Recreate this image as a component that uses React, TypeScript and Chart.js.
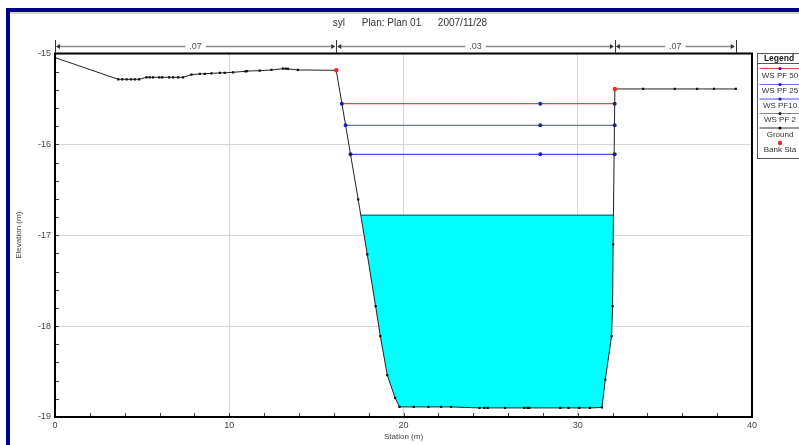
import React, { useEffect, useRef } from "react";
import { Chart, registerables } from "chart.js";

Chart.register(...registerables);

// ---- data ----
const groundX = [
  0, 3.63, 3.86, 4.11, 4.36, 4.58, 4.83, 5.25, 5.44, 5.63, 5.98, 6.15, 6.55, 6.78, 7.07, 7.35,
  7.83, 8.31, 8.6, 8.98, 9.46, 9.74, 10.22, 10.93, 11.02, 11.75, 12.42, 13.08, 13.24, 13.37, 13.94,
  16.14, 17.4, 17.92, 18.4, 18.67, 19.07, 19.52, 19.77, 20.59, 21.43, 22.16, 22.73, 24.36, 24.64,
  24.83, 25.83, 26.93, 27.12, 27.22, 29.0, 29.47, 30.09, 30.7, 31.39, 31.58, 31.94, 32.0, 32.03,
  32.13, 33.75, 35.57, 36.85, 37.82, 39.07,
];
const groundY = [
  -15.045, -15.284, -15.284, -15.284, -15.284, -15.284, -15.284, -15.262, -15.262, -15.262, -15.262,
  -15.262, -15.262, -15.262, -15.262, -15.262, -15.233, -15.225, -15.223, -15.218, -15.214, -15.212,
  -15.207, -15.196, -15.193, -15.189, -15.181, -15.167, -15.167, -15.17, -15.181,
  -15.185, -16.606, -17.21, -17.78, -18.11, -18.54, -18.79, -18.889, -18.889, -18.889, -18.889,
  -18.889, -18.9, -18.9, -18.9, -18.9, -18.9, -18.9, -18.9, -18.9, -18.9, -18.9, -18.9, -18.895,
  -18.59, -18.11, -17.78, -17.1, -15.39, -15.39, -15.39, -15.39, -15.39, -15.39,
];
const bankX = [16.14, 32.13];
const bankY = [-15.185, -15.39];

const wsNames = ["WS PF 50", "WS PF 25", "WS PF10", "WS PF 2"];
const wsElev = [-15.552, -15.79, -16.11, -16.78];
const wsLeftX = [16.46, 16.68, 16.96, 17.55];
const wsMidX = [27.85, 27.85, 27.85, 27.85];
const wsRightX = [32.12, 32.12, 32.12, 32.05];

const nStations = [0, 16.14, 32.13, 39.07];
const nValues = [".07", ".03", ".07"];

const xTicks = [0, 10, 20, 30, 40];
const yTicks = [-15, -16, -17, -18, -19];

const titleText = "syl      Plan: Plan 01      2007/11/28";
const FONT = "'Liberation Sans', Arial, sans-serif";

// ---- styles ----
const wsLine = ["#e04848", "#6a6ae8", "#4a4af8", "#1f7f86"];
const wsMarker = "#1c1cc8";

export default function App() {
  const ref = useRef<HTMLCanvasElement>(null);

  useEffect(() => {
    document.body.style.margin = "0";
    const canvas = ref.current!;

    const wsSets = wsNames.map((name, i) => {
      const pts =
        i === 3
          ? [
              { x: wsLeftX[i], y: wsElev[i] },
              { x: wsRightX[i], y: wsElev[i] },
            ]
          : [
              { x: wsLeftX[i], y: wsElev[i] },
              { x: wsMidX[i], y: wsElev[i] },
              { x: wsRightX[i], y: wsElev[i] },
            ];
      return {
        label: name,
        data: pts,
        showLine: true,
        borderColor: wsLine[i],
        borderWidth: i === 3 ? 1.5 : 1.2,
        pointRadius: i === 3 ? 0 : 2,
        pointBackgroundColor: wsMarker,
        pointBorderColor: wsMarker,
        pointBorderWidth: 0,
        fill: i === 3 ? { target: 4 } : false,
        backgroundColor: i === 3 ? "#00ffff" : wsMarker,
        order: 5 + i,
      } as any;
    });

    const ground = {
      label: "Ground",
      data: groundX.map((x, i) => ({ x, y: groundY[i] })),
      showLine: true,
      borderColor: "#222",
      borderWidth: 1,
      pointStyle: "rect",
      pointRadius: 1.6,
      pointBackgroundColor: "#111",
      pointBorderColor: "#111",
      pointBorderWidth: 0,
      fill: false,
      order: 1,
    } as any;

    const bank = {
      label: "Bank Sta",
      data: bankX.map((x, i) => ({ x, y: bankY[i] })),
      showLine: false,
      pointRadius: 2.2,
      pointBackgroundColor: "#ff2020",
      pointBorderColor: "#ff2020",
      pointBorderWidth: 0,
      order: 0,
    } as any;

    const framePlugin = {
      id: "frame",
      beforeDraw(chart: any) {
        const c = chart.ctx;
        c.save();
        c.fillStyle = "#fff";
        c.fillRect(0, 0, chart.width, chart.height);
        c.fillStyle = "#d4d4d4";
        c.fillRect(10, 12, chart.width - 10, 2);
        c.fillStyle = "#00008b";
        c.fillRect(6, 8, chart.width - 6, 4);
        c.fillRect(6, 8, 4, chart.height - 8);
        c.restore();
      },
      afterDraw(chart: any) {
        const c = chart.ctx;
        const a = chart.chartArea;
        const xs = chart.scales.x;
        const ys = chart.scales.y;
        c.save();
        // plot border
        c.strokeStyle = "#000";
        c.lineWidth = 2;
        c.strokeRect(a.left, a.top, a.right - a.left, a.bottom - a.top);
        // minor ticks
        c.strokeStyle = "#444";
        c.lineWidth = 1;
        c.beginPath();
        for (let v = 2; v < 40; v += 2) {
          const px = Math.round(xs.getPixelForValue(v)) + 0.5;
          c.moveTo(px, a.bottom - 1);
          c.lineTo(px, a.bottom - 4);
        }
        for (let k = 1; k < 20; k++) {
          const v = -19 + k * 0.2;
          const py = Math.round(ys.getPixelForValue(v)) + 0.5;
          c.moveTo(a.left + 1, py);
          c.lineTo(a.left + 4, py);
        }
        c.stroke();

        // title
        c.fillStyle = "#333";
        c.font = `10px ${FONT}`;
        c.textAlign = "center";
        c.textBaseline = "middle";
        c.fillText(titleText, 410, 23);

        // axis titles
        c.font = `8px ${FONT}`;
        c.fillStyle = "#444";
        c.fillText("Station (m)", (a.left + a.right) / 2, 437);
        c.save();
        c.translate(19, (a.top + a.bottom) / 2);
        c.rotate(-Math.PI / 2);
        c.fillText("Elevation (m)", 0, 0);
        c.restore();

        // Manning's n bar
        const yb = 46.5;
        c.font = `9px ${FONT}`;
        for (let i = 0; i < nValues.length; i++) {
          const x0 = xs.getPixelForValue(nStations[i]);
          const x1 = xs.getPixelForValue(nStations[i + 1]);
          const mid = (x0 + x1) / 2;
          const tw = c.measureText(nValues[i]).width + 8;
          c.strokeStyle = "#8a8a8a";
          c.lineWidth = 1.5;
          c.beginPath();
          c.moveTo(x0 + 2, yb);
          c.lineTo(mid - tw / 2, yb);
          c.moveTo(mid + tw / 2, yb);
          c.lineTo(x1 - 2, yb);
          c.stroke();
          c.fillStyle = "#555";
          c.fillText(nValues[i], mid, yb);
          // arrowheads
          c.fillStyle = "#333";
          c.beginPath();
          c.moveTo(x0 + 1, yb);
          c.lineTo(x0 + 5, yb - 2.5);
          c.lineTo(x0 + 5, yb + 2.5);
          c.closePath();
          c.moveTo(x1 - 1, yb);
          c.lineTo(x1 - 5, yb - 2.5);
          c.lineTo(x1 - 5, yb + 2.5);
          c.closePath();
          c.fill();
        }
        c.strokeStyle = "#333";
        c.lineWidth = 1;
        c.beginPath();
        for (const s of nStations) {
          const px = Math.round(xs.getPixelForValue(s)) + 0.5;
          c.moveTo(px, 40);
          c.lineTo(px, 53);
        }
        c.stroke();

        // legend
        const lx = 757.5;
        const ly = 53.5;
        c.fillStyle = "#fff";
        c.fillRect(lx, ly, 50, 105);
        c.strokeStyle = "#555";
        c.lineWidth = 1;
        c.strokeRect(lx, ly, 50, 105);
        c.beginPath();
        c.moveTo(lx, 63.5);
        c.lineTo(799, 63.5);
        c.stroke();
        c.fillStyle = "#222";
        c.font = `bold 8.5px ${FONT}`;
        c.fillText("Legend", 779, 58.5);
        const items = [
          { t: "WS PF 50", line: wsLine[0], mk: wsMarker, yl: 68, yt: 75.5 },
          { t: "WS PF 25", line: wsLine[1], mk: wsMarker, yl: 84, yt: 91 },
          { t: "WS PF10", line: wsLine[2], mk: wsMarker, yl: 98.5, yt: 105.5 },
          { t: "WS PF 2", line: "#888", mk: "#222", yl: 113, yt: 120 },
          { t: "Ground", line: "#333", mk: "#111", yl: 127.5, yt: 135 },
          { t: "Bank Sta", line: null, mk: "#ff2020", yl: 142.5, yt: 149.5 },
        ];
        c.font = `8px ${FONT}`;
        for (const it of items) {
          if (it.line) {
            c.strokeStyle = it.line;
            c.lineWidth = 1;
            c.beginPath();
            c.moveTo(lx + 2, it.yl + 0.5);
            c.lineTo(799, it.yl + 0.5);
            c.stroke();
          }
          c.fillStyle = it.mk;
          c.beginPath();
          c.arc(780, it.yl + 0.5, it.line ? 1.6 : 2.2, 0, Math.PI * 2);
          c.fill();
          c.fillStyle = "#333";
          c.fillText(it.t, 780, it.yt);
        }
        c.restore();
      },
    };

    const chart = new Chart(canvas, {
      type: "scatter",
      data: { datasets: [...wsSets, ground, bank] },
      options: {
        animation: false,
        responsive: false,
        devicePixelRatio: 1,
        layout: { padding: { left: 0, right: 47, top: 53.5, bottom: 0 } },
        plugins: {
          legend: { display: false },
          tooltip: { enabled: false },
          title: { display: false },
        },
        elements: { line: { tension: 0 } },
        scales: {
          x: {
            type: "linear",
            min: 0,
            max: 40,
            afterBuildTicks: (s: any) => {
              s.ticks = xTicks.map((v) => ({ value: v }));
            },
            afterFit: (s: any) => {
              s.height = 28;
            },
            ticks: {
              font: { size: 9, family: FONT },
              color: "#444",
              padding: 3,
              maxRotation: 0,
            },
            grid: { color: "#d6d6d6", lineWidth: 1, drawTicks: false },
            border: { color: "#000", width: 2 },
          },
          y: {
            type: "linear",
            min: -19,
            max: -15,
            afterBuildTicks: (s: any) => {
              s.ticks = yTicks.map((v) => ({ value: v }));
            },
            afterFit: (s: any) => {
              s.width = 55;
            },
            ticks: {
              font: { size: 9, family: FONT },
              color: "#444",
              padding: 4,
            },
            grid: { color: "#d6d6d6", lineWidth: 1, drawTicks: false },
            border: { color: "#000", width: 2 },
          },
        },
      },
      plugins: [framePlugin],
    } as any);

    return () => chart.destroy();
  }, []);

  return (
    <div style={{ width: 799, height: 445, position: "relative" }}>
      <canvas ref={ref} width={799} height={445} style={{ width: 799, height: 445, display: "block" }} />
    </div>
  );
}
